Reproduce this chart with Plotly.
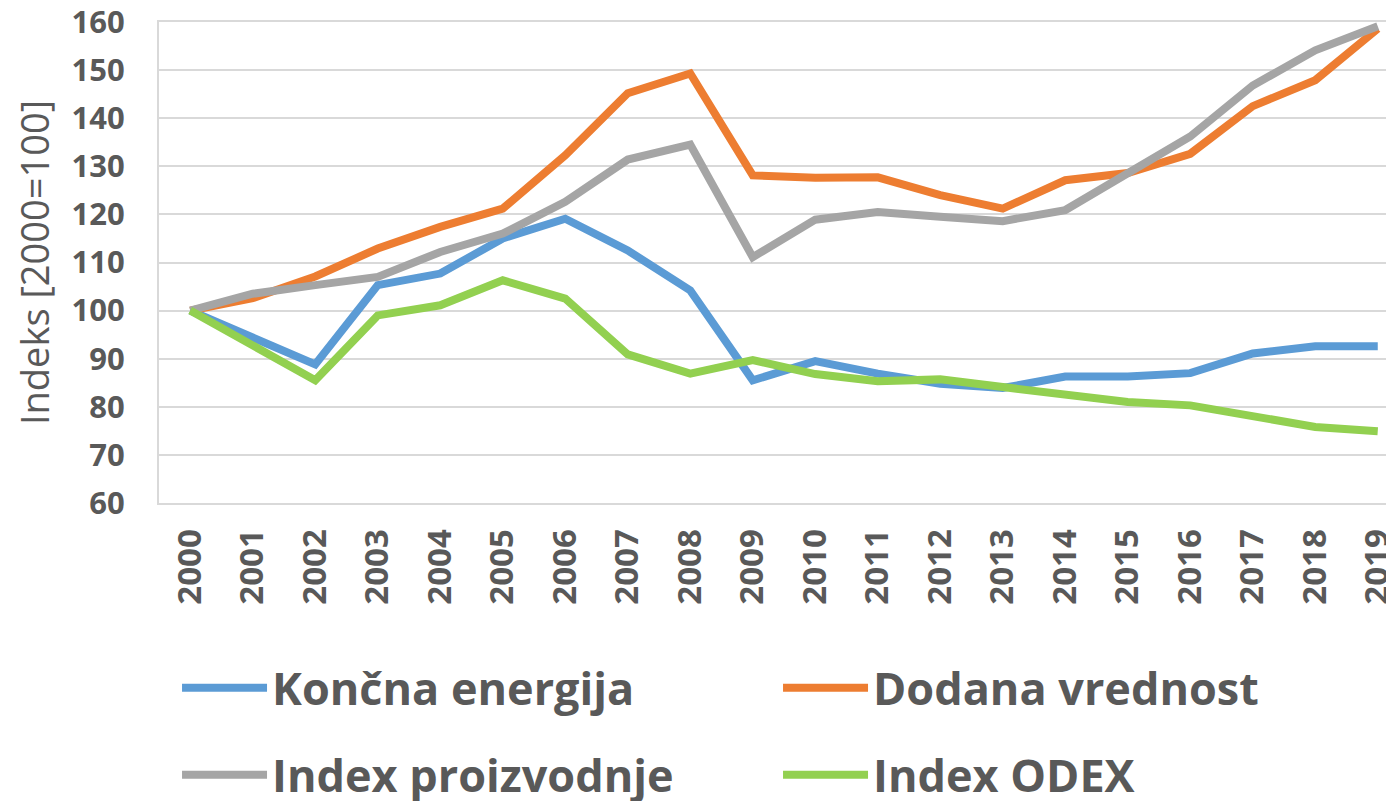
import plotly.graph_objects as go

years = [str(y) for y in range(2000, 2020)]

koncna_energija = [100, 94.5, 88.8, 105.3, 107.7, 115.0, 119.1, 112.5, 104.2, 85.5,
                   89.5, 86.9, 84.8, 83.9, 86.3, 86.3, 87.0, 91.1, 92.6, 92.6]
dodana_vrednost = [100, 102.6, 107.1, 112.9, 117.4, 121.2, 132.3, 145.2, 149.3, 128.1,
                   127.6, 127.7, 124.0, 121.2, 127.1, 128.6, 132.6, 142.5, 147.9, 158.6]
index_proizvodnje = [100, 103.5, 105.3, 107.0, 112.2, 116.0, 122.6, 131.4, 134.5, 111.1,
                     118.9, 120.5, 119.5, 118.6, 120.9, 128.5, 136.2, 146.8, 154.1, 159.1]
index_odex = [100, 92.8, 85.5, 99.0, 101.1, 106.3, 102.5, 90.9, 86.9, 89.7,
              86.8, 85.3, 85.7, 84.1, 82.4, 81.0, 80.3, 78.2, 75.8, 74.9]

series = [
    ("Končna energija", koncna_energija, "#5B9BD5", "legend"),
    ("Dodana vrednost", dodana_vrednost, "#ED7D31", "legend"),
    ("Index proizvodnje", index_proizvodnje, "#A5A5A5", "legend2"),
    ("Index ODEX", index_odex, "#92D050", "legend2"),
]

TEXT = "#595959"
GRID = "#D9D9D9"
FONT = "Open Sans"

fig = go.Figure()
for name, vals, color, lg in series:
    fig.add_trace(go.Scatter(
        x=years, y=vals, name=name, mode="lines",
        line=dict(color=color, width=8), legend=lg,
    ))

legend_common = dict(
    orientation="h", xanchor="left", yanchor="middle",
    xref="paper", yref="container",
    entrywidth=501, entrywidthmode="pixels",
    font=dict(family=FONT, size=45, color=TEXT, weight="bold"),
    bgcolor="rgba(0,0,0,0)", itemwidth=85,
)

# page body has an 8px default margin, so the figure is sized to fill the rest
fig.update_layout(
    width=1386, height=793,
    margin=dict(l=151, r=0, t=14, b=298, autoexpand=False),
    paper_bgcolor="white", plot_bgcolor="white",
    showlegend=True,
    legend=dict(x=0.0146, y=0.1425, **legend_common),
    legend2=dict(x=0.0146, y=0.0328, **legend_common),
    xaxis=dict(
        type="category", range=[-0.5, 19.26], automargin=False,
        tickangle=-90, showgrid=False,
        showline=True, linecolor=GRID, linewidth=2, mirror=True,
        ticks="", ticklabelstandoff=11, ticklabeloverflow="allow",
        tickfont=dict(family=FONT, size=33, color=TEXT, weight="bold"),
    ),
    yaxis=dict(
        range=[60, 160], dtick=10, tick0=60, automargin=False,
        showgrid=True, gridcolor=GRID, gridwidth=2,
        showline=True, linecolor=GRID, linewidth=2,
        zeroline=False, ticks="", ticklabelstandoff=26,
        ticklabeloverflow="allow",
        tickfont=dict(family=FONT, size=31, color=TEXT, weight="bold"),
        title=dict(text="Indeks [2000=100]", standoff=16,
                   font=dict(family=FONT, size=38, color=TEXT)),
    ),
)

fig.write_html("out.html", config={"displayModeBar": False})
